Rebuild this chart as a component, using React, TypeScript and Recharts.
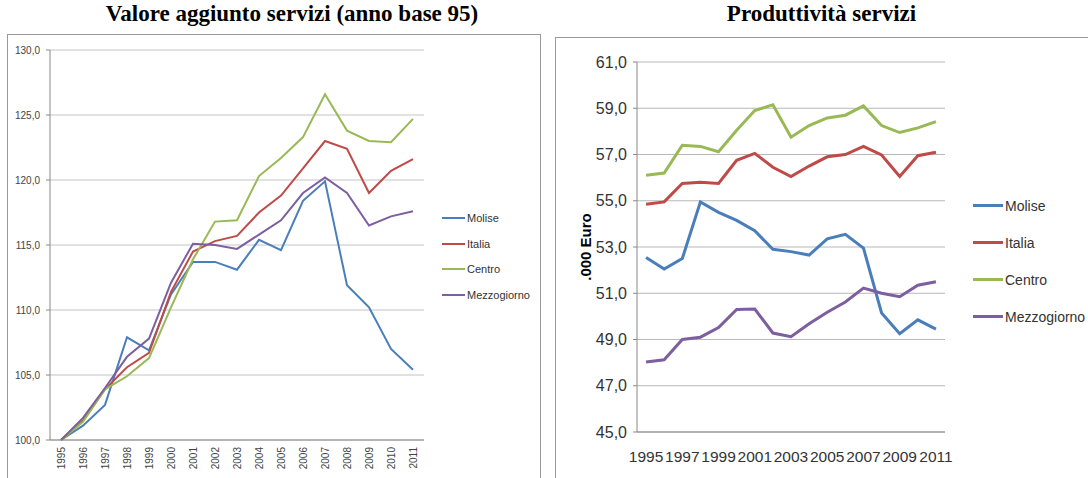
import React from 'react'
import { LineChart, Line, XAxis, YAxis, CartesianGrid, Legend } from 'recharts'

const years = [1995, 1996, 1997, 1998, 1999, 2000, 2001, 2002, 2003, 2004, 2005, 2006, 2007, 2008, 2009, 2010, 2011]
const seriesNames = ['Molise', 'Italia', 'Centro', 'Mezzogiorno']
const colors = ['#4A7EBB', '#BE4B48', '#98B954', '#7D5FA0']

// valore aggiunto servizi, 1995 = 100
const vaMolise = [100, 101.1, 102.7, 107.9, 106.9, 111.2, 113.7, 113.7, 113.1, 115.4, 114.6, 118.4, 119.9, 111.9, 110.2, 107.0, 105.4]
const vaItalia = [100, 101.5, 103.9, 105.6, 106.7, 111.4, 114.5, 115.3, 115.7, 117.5, 118.8, 120.9, 123.0, 122.4, 119.0, 120.7, 121.6]
const vaCentro = [100, 101.4, 103.9, 104.9, 106.3, 110.2, 113.9, 116.8, 116.9, 120.3, 121.7, 123.3, 126.6, 123.8, 123.0, 122.9, 124.7]
const vaMezzogiorno = [100, 101.7, 104.0, 106.4, 107.8, 112.1, 115.1, 115.0, 114.7, 115.8, 116.9, 119.0, 120.2, 119.0, 116.5, 117.2, 117.6]

// produttività servizi, .000 euro
const prMolise = [52.55, 52.05, 52.5, 54.95, 54.5, 54.15, 53.7, 52.9, 52.8, 52.65, 53.35, 53.55, 52.95, 50.15, 49.25, 49.85, 49.45]
const prItalia = [54.85, 54.95, 55.75, 55.8, 55.75, 56.75, 57.05, 56.45, 56.05, 56.5, 56.9, 57.0, 57.35, 56.98, 56.05, 56.95, 57.1]
const prCentro = [56.1, 56.2, 57.4, 57.35, 57.12, 58.05, 58.9, 59.15, 57.75, 58.25, 58.58, 58.7, 59.1, 58.25, 57.95, 58.15, 58.42]
const prMezzogiorno = [48.03, 48.12, 49.0, 49.1, 49.52, 50.3, 50.32, 49.28, 49.12, 49.68, 50.18, 50.62, 51.22, 51.0, 50.85, 51.35, 51.5]

const vaTicks = [100, 105, 110, 115, 120, 125, 130]
const prTicks = [45, 47, 49, 51, 53, 55, 57, 59, 61]
const prYearLabels = [1995, 1997, 1999, 2001, 2003, 2005, 2007, 2009, 2011]

const vaData = years.map((year, i) => ({
  year,
  Molise: vaMolise[i],
  Italia: vaItalia[i],
  Centro: vaCentro[i],
  Mezzogiorno: vaMezzogiorno[i],
}))
const prData = years.map((year, i) => ({
  year,
  Molise: prMolise[i],
  Italia: prItalia[i],
  Centro: prCentro[i],
  Mezzogiorno: prMezzogiorno[i],
}))
const boundaries = years.map((y) => y - 0.5).concat(years[years.length - 1] + 0.5)

const sans = "'Liberation Sans', Arial, sans-serif"
const serif = "'Liberation Serif', 'Times New Roman', serif"
const comma = (v: number) => v.toFixed(1).replace('.', ',')

function makeLegend(lineW: number, thick: number, rowH: number, fontSize: number) {
  return () => (
    <div style={{ fontFamily: sans }}>
      {seriesNames.map((name, i) => (
        <div key={name} style={{ display: 'flex', alignItems: 'center', height: rowH }}>
          <span style={{ display: 'inline-block', width: lineW, height: thick, background: colors[i] }} />
          <span style={{ marginLeft: 2, fontSize, color: '#333', whiteSpace: 'nowrap' }}>{name}</span>
        </div>
      ))}
    </div>
  )
}

function RotatedTick(props: any) {
  const { x, y, payload } = props
  return (
    <text
      x={x}
      y={y}
      transform={`rotate(-90 ${x} ${y})`}
      textAnchor='end'
      dominantBaseline='central'
      fontSize={10}
      fontFamily={sans}
      fill='#444'
    >
      {payload.value}
    </text>
  )
}

export default function App() {
  return (
    <div style={{ position: 'absolute', left: 0, top: 0, width: 1088, height: 478, background: '#fff', overflow: 'hidden' }}>
      <div style={{ position: 'absolute', left: 7, top: 34, width: 532, height: 460, border: '1px solid #9a9a9a' }} />
      <div style={{ position: 'absolute', left: 555, top: 37, width: 560, height: 460, border: '1px solid #9a9a9a' }} />

      <div style={{ position: 'absolute', left: 0, top: 1, width: 584, textAlign: 'center', fontFamily: serif, fontWeight: 'bold', fontSize: 23, whiteSpace: 'nowrap' }}>
        Valore aggiunto servizi (anno base 95)
      </div>
      <div style={{ position: 'absolute', left: 555, top: 1, width: 533, textAlign: 'center', fontFamily: serif, fontWeight: 'bold', fontSize: 23, whiteSpace: 'nowrap' }}>
        Produttività servizi
      </div>

      <div style={{ position: 'absolute', left: 0, top: 0 }}>
        <LineChart width={540} height={478} data={vaData} margin={{ top: 50, right: 16, bottom: 0, left: 0 }}>
          <CartesianGrid vertical={false} stroke='#c4c4c4' />
          <XAxis
            xAxisId='b'
            type='number'
            dataKey='year'
            domain={[1994.5, 2011.5]}
            ticks={boundaries}
            tick={false}
            axisLine={false}
            tickLine={{ stroke: '#888' }}
            tickSize={5}
            height={0}
          />
          <XAxis
            type='number'
            dataKey='year'
            domain={[1994.5, 2011.5]}
            ticks={years}
            interval={0}
            tick={<RotatedTick />}
            tickLine={false}
            tickSize={0}
            tickMargin={7}
            axisLine={{ stroke: '#888' }}
            height={38}
          />
          <YAxis
            domain={[100, 130]}
            ticks={vaTicks}
            tickFormatter={comma}
            width={50}
            tickSize={4}
            tickMargin={6}
            axisLine={{ stroke: '#888' }}
            tickLine={{ stroke: '#888' }}
            tick={{ fontSize: 10, fontFamily: sans, fill: '#444' }}
          />
          <Legend
            layout='vertical'
            align='right'
            verticalAlign='middle'
            content={makeLegend(23, 2, 25.7, 11)}
            wrapperStyle={{ left: 442, top: 205, width: 100 }}
          />
          {seriesNames.map((name, i) => (
            <Line key={name} type='linear' dataKey={name} stroke={colors[i]} strokeWidth={2} dot={false} isAnimationActive={false} />
          ))}
        </LineChart>
      </div>

      <div style={{ position: 'absolute', left: 555, top: 37 }}>
        <LineChart width={533} height={441} data={prData} margin={{ top: 25, right: 23, bottom: 0, left: 10 }}>
          <CartesianGrid vertical={false} stroke='#b8b8b8' />
          <XAxis
            xAxisId='b'
            type='number'
            dataKey='year'
            domain={[1994.5, 2011.5]}
            ticks={boundaries}
            tick={false}
            axisLine={false}
            tickLine={{ stroke: '#888' }}
            tickSize={5}
            height={0}
          />
          <XAxis
            type='number'
            dataKey='year'
            domain={[1994.5, 2011.5]}
            ticks={prYearLabels}
            interval={0}
            tickLine={false}
            tickSize={0}
            tickMargin={19}
            axisLine={{ stroke: '#888' }}
            tick={{ fontSize: 15.5, fontFamily: sans, fill: '#333' }}
            height={46}
          />
          <YAxis
            domain={[45, 61]}
            ticks={prTicks}
            tickFormatter={comma}
            width={72}
            tickSize={4}
            tickMargin={6}
            axisLine={{ stroke: '#888' }}
            tickLine={{ stroke: '#888' }}
            tick={{ fontSize: 16, fontFamily: sans, fill: '#333' }}
            label={{
              value: '.000 Euro',
              angle: -90,
              position: 'insideLeft',
              offset: 21,
              style: { textAnchor: 'middle', fontWeight: 'bold', fontSize: 15, fontFamily: sans, fill: '#000' },
            }}
          />
          <Legend
            layout='vertical'
            align='right'
            verticalAlign='middle'
            content={makeLegend(30, 3, 37, 14)}
            wrapperStyle={{ left: 418, top: 150, width: 120 }}
          />
          {seriesNames.map((name, i) => (
            <Line key={name} type='linear' dataKey={name} stroke={colors[i]} strokeWidth={3} dot={false} isAnimationActive={false} />
          ))}
        </LineChart>
      </div>
    </div>
  )
}
